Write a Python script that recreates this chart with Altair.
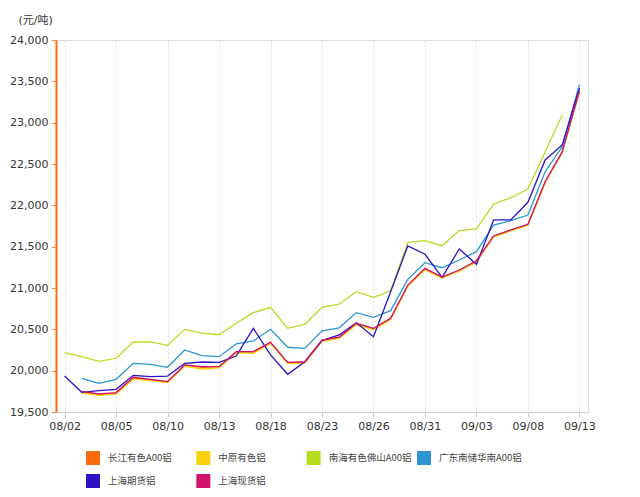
import altair as alt
import pandas as pd

dates = ["08/02", "08/03", "08/04", "08/05", "08/06", "08/09", "08/10", "08/11", "08/12", "08/13",
         "08/16", "08/17", "08/18", "08/19", "08/20", "08/23", "08/24", "08/25", "08/26", "08/27",
         "08/30", "08/31", "09/01", "09/02", "09/03", "09/06", "09/07", "09/08", "09/09", "09/10",
         "09/13"]
tick_dates = ["08/02", "08/05", "08/10", "08/13", "08/18", "08/23", "08/26", "08/31", "09/03", "09/08", "09/13"]

series_names = ["长江有色A00铝", "中原有色铝", "南海有色佛山A00铝", "广东南储华南A00铝", "上海期货铝", "上海现货铝"]
series_colors = ["#fa6a0f", "#f7d10c", "#b6dc22", "#2a95d2", "#2d12c4", "#d0126e"]

changjiang = [None, 19740, 19710, 19725, 19910, 19890, 19860, 20065, 20040, 20045,
              20225, 20225, 20340, 20095, 20100, 20365, 20400, 20565, 20505, 20630,
              21030, 21230, 21130, 21215, 21325, 21625, 21700, 21765, 22280, 22645,
              23380]
zhongyuan = [None, 19730, 19700, 19715, 19900, 19880, 19855, 20055, 20020, 20035,
             20215, 20210, 20330, 20085, 20090, 20355, 20390, 20555, 20495, 20620,
             21020, 21220, 21120, 21205, 21315, 21615, 21690, 21755, 22270, 22640,
             23375]
nanhai = [20217, 20169, 20113, 20150, 20347, 20347, 20307, 20500, 20455, 20435,
          20573, 20701, 20766, 20512, 20561, 20766, 20804, 20955, 20887, 20967,
          21553, 21573, 21512, 21695, 21714, 22016, 22092, 22196, 22645, 23093,
          None]
guangdong = [None, 19907, 19847, 19895, 20089, 20077, 20041, 20250, 20181, 20169,
             20323, 20359, 20500, 20283, 20270, 20483, 20518, 20702, 20645, 20726,
             21105, 21306, 21245, 21339, 21439, 21762, 21814, 21883, 22407, 22709,
             23460]
shanghai_fut = [19935, 19738, 19758, 19774, 19944, 19927, 19935, 20089, 20105, 20101,
                20177, 20512, 20190, 19956, 20108, 20363, 20432, 20580, 20411, 20955,
                21508, 21408, 21129, 21472, 21286, 21823, 21823, 22037, 22549, 22730,
                23420]
shanghai_spot = [None, 19750, 19720, 19735, 19920, 19895, 19868, 20070, 20048, 20048,
                 20230, 20230, 20343, 20101, 20108, 20371, 20407, 20573, 20512, 20633,
                 21036, 21238, 21133, 21218, 21330, 21629, 21702, 21770, 22286, 22649,
                 23385]

all_series = [changjiang, zhongyuan, nanhai, guangdong, shanghai_fut, shanghai_spot]

rows = []
for name, vals in zip(series_names, all_series):
    for d, v in zip(dates, vals):
        if v is not None:
            rows.append({"date": d, "series": name, "price": v})
df = pd.DataFrame(rows)

legend_df = pd.DataFrame({
    "series": series_names,
    "col": [i % 4 for i in range(len(series_names))],
    "row": [i // 4 for i in range(len(series_names))],
})

FONT = "Verdana, DejaVu Sans, Noto Sans CJK SC, sans-serif"
LEG_FONT = "Noto Sans CJK SC, sans-serif"

color_enc = alt.Color("series:N", sort=series_names,
                      scale=alt.Scale(domain=series_names, range=series_colors),
                      legend=None)

lines = alt.Chart(df).mark_line(strokeWidth=1.3).encode(
    x=alt.X("date:O", sort=dates, scale=alt.Scale(type="point", padding=0.5, domain=dates),
            axis=alt.Axis(values=tick_dates, labelAngle=0, title=None, grid=True,
                          gridColor="#dddddd", gridDash=[2, 2], gridWidth=1,
                          domainColor="#d0d0d0", tickColor="#d0d0d0", tickSize=5,
                          labelColor="#333333", labelFontSize=11, labelFont=FONT,
                          labelPadding=3)),
    y=alt.Y("price:Q", scale=alt.Scale(domain=[19500, 24000], nice=False, zero=False),
            axis=alt.Axis(values=[19500, 20000, 20500, 21000, 21500, 22000, 22500, 23000, 23500, 24000],
                          format=",.0f", grid=False, domainColor="#ff6a10", domainWidth=2,
                          tickColor="#ff8a40", tickSize=5, labelColor="#333333",
                          labelFontSize=11, labelFont=FONT, labelPadding=3,
                          title="(元/吨)", titleAngle=0, titleX=-38, titleY=-20,
                          titleAlign="left", titleBaseline="middle", titleFontSize=11,
                          titleFontWeight="normal", titleColor="#333333", titleFont=FONT)),
    color=color_enc,
    detail="series:N",
)

leg_x = alt.X("col:Q", scale=alt.Scale(domain=[0, 3], range=[37, 368]), axis=None)
leg_y = alt.Y("row:Q", scale=alt.Scale(domain=[0, 1], range=[418, 441]), axis=None)

leg_sq = alt.Chart(legend_df).mark_square(size=196, opacity=1).encode(
    x=leg_x, y=leg_y, color=color_enc)
leg_tx = alt.Chart(legend_df).mark_text(align="left", baseline="middle", dx=15, fontSize=9.5,
                                        font=LEG_FONT, color="#444444").encode(
    x=leg_x, y=leg_y, text="series:N")

legend_layer = alt.layer(leg_sq, leg_tx)

chart = alt.layer(lines, legend_layer).resolve_scale(
    x="independent", y="independent"
).properties(
    width=532, height=372,
    padding={"left": 56, "top": 40, "right": 52, "bottom": 85},
    autosize=alt.AutoSizeParams(type="none"),
).configure_view(stroke=None).configure(background="white")

chart.save("out.html", embed_options={"renderer": "svg", "actions": False})
